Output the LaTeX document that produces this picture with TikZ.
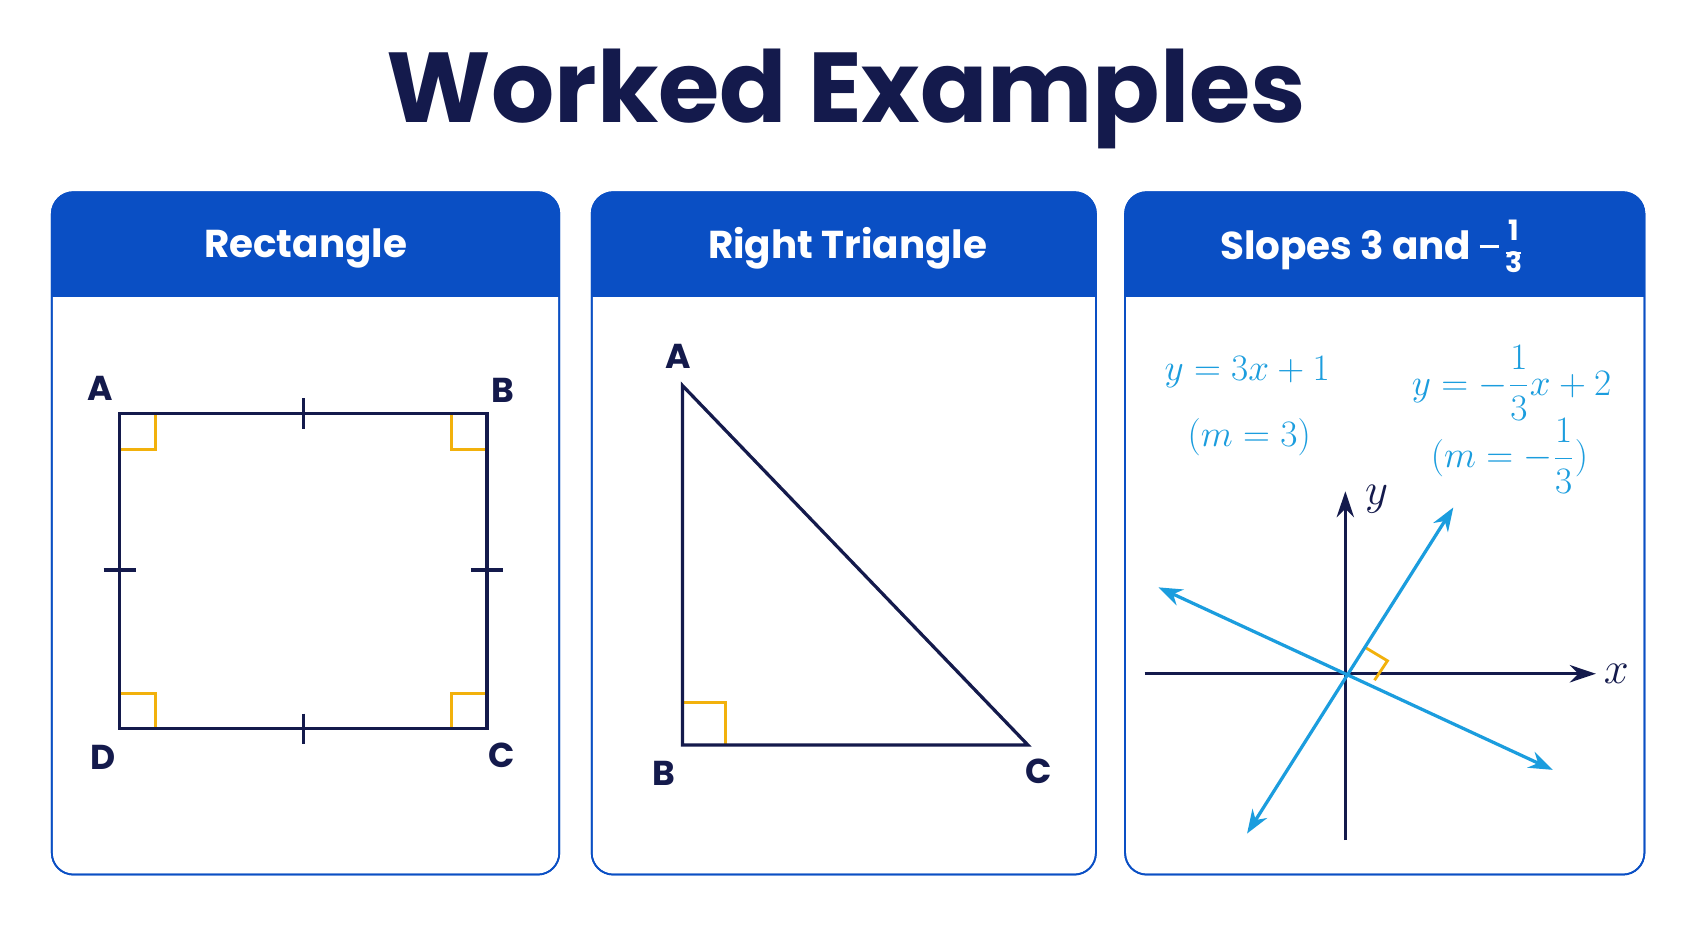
\documentclass[tikz,border=0pt]{standalone}
\usepackage{fontspec}
\setmainfont{Poppins}
\usetikzlibrary{arrows.meta}
\definecolor{navy}{HTML}{141A4C}
\definecolor{hdr}{HTML}{0A4FC4}
\definecolor{sky}{HTML}{1B9DDE}
\definecolor{org}{HTML}{F2B10C}
\newcommand{\hfrac}[2]{\ensuremath{\vcenter{\hbox{\fontsize{13}{13}\selectfont\bfseries\begin{tabular}{@{}c@{}}#1\\[-7pt]\rule{7pt}{1pt}\\[-5pt]#2\end{tabular}}}}}
\begin{document}
\begin{tikzpicture}[x=0.5pt,y=-0.5pt,
  panel/.style={draw=hdr,line width=0.8pt,rounded corners=10pt,fill=white},
  htext/.style={text=white,font=\fontsize{18}{22}\selectfont\bfseries},
  lbl/.style={text=navy,font=\fontsize{16}{20}\selectfont\bfseries},
  edge/.style={draw=navy,line width=1.5pt},
  ra/.style={draw=org,line width=1.3pt},
  eq/.style={text=sky,font=\fontsize{18}{22}\selectfont},
  bl/.style={draw=sky,line width=1.5pt,{Stealth[length=11pt,width=8pt]}-{Stealth[length=11pt,width=8pt]}},
  ax/.style={draw=navy,line width=1.5pt,-{Stealth[length=12pt,width=8pt]}}]
\useasboundingbox (0,0) rectangle (1568,860);
\node[text=navy,font=\fontsize{46}{52}\selectfont\bfseries] (title) at (784,92) {Worked Examples};
% panels
\foreach \a/\b/\n in {48/518/p1,548/1015/p2,1042/1523/p3}{
  \draw[panel] (\a,178) rectangle (\b,810);
  \begin{scope}
  \clip[rounded corners=10pt] (\a,178) rectangle (\b,400);
  \fill[hdr] (\a,178) rectangle (\b,275);
  \end{scope}
  \draw[draw=hdr,line width=0.8pt,rounded corners=10pt] (\a,178) rectangle (\b,810);
}
\node[htext] (h1) at (283,230) {Rectangle};
\node[htext] (h2) at (785,230) {Right Triangle};
\node[htext] (h3) at (1270,232) {Slopes 3 and \rule[0.3em]{0.5em}{1.4pt}\,\hfrac{1}{3}};
% rectangle
\coordinate (A) at (111,383); \coordinate (B) at (451,383);
\coordinate (C) at (451,675); \coordinate (D) at (111,675);
\draw[ra] (111,416) -- (144,416) -- (144,383);
\draw[ra] (451,416) -- (418,416) -- (418,383);
\draw[ra] (111,642) -- (144,642) -- (144,675);
\draw[ra] (451,642) -- (418,642) -- (418,675);
\draw[edge] (A) -- (B) -- (C) -- (D) -- cycle;
\draw[edge] (281,369) -- (281,397);
\draw[edge] (281,661) -- (281,689);
\draw[edge] (96,528) -- (126,528);
\draw[edge] (436,528) -- (466,528);
\node[lbl] (lA) at (93,360) {A};
\node[lbl] (lB) at (466,362) {B};
\node[lbl] (lD) at (95,701) {D};
\node[lbl] (lC) at (465,700) {C};
% triangle
\coordinate (TA) at (632,357); \coordinate (TB) at (632,690); \coordinate (TC) at (952,690);
\draw[ra] (632,651) -- (672,651) -- (672,690);
\draw[edge,line join=miter] (TA) -- (TB) -- (TC) -- cycle;
\node[lbl] (tA) at (628,330) {A};
\node[lbl] (tB) at (615,716) {B};
\node[lbl] (tC) at (962,714) {C};
% slopes
\node[eq] (e1) at (1155,345) {$y = 3x + 1$};
\node[eq] (e2) at (1157,405) {$(m = 3)$};
\node[eq] (e3) at (1400,355) {$\displaystyle y = -\frac{1}{3}x + 2$};
\node[eq] (e4) at (1398,422) {$\displaystyle (m = -\frac{1}{3})$};
\coordinate (O) at (1246,624);
\draw[ax] (1060,624) -- (1478,624);
\draw[ax] (1246,778) -- (1246,455);
\node[text=navy,font=\fontsize{20}{24}\selectfont] (xl) at (1497,624) {$x$};
\node[text=navy,font=\fontsize{20}{24}\selectfont] (yl) at (1275,462) {$y$};
\draw[ra] (1265,600) -- (1285,612) -- (1273,630);
\draw[bl] (1155,772) -- (1346,470);
\draw[bl] (1073,544) -- (1438,713);
\end{tikzpicture}
\end{document}
